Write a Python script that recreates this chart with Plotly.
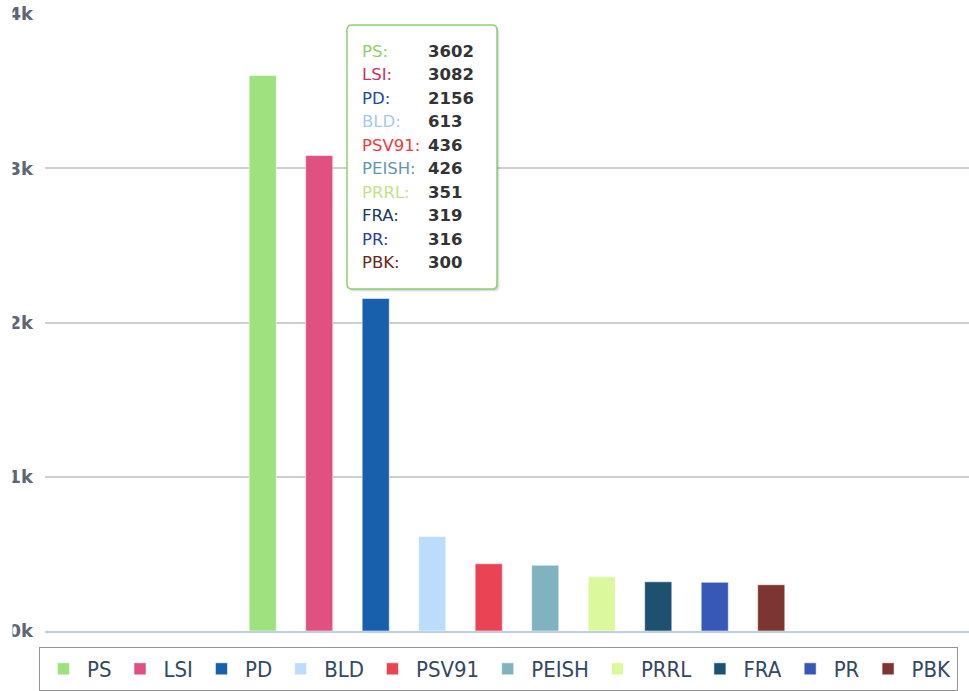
import plotly.graph_objects as go

# ---- data ----
parties = ["PS", "LSI", "PD", "BLD", "PSV91", "PEISH", "PRRL", "FRA", "PR", "PBK"]
votes = [3602, 3082, 2156, 613, 436, 426, 351, 319, 316, 300]
bar_colors = ["#9fe07f", "#e05080", "#1860ac", "#bcdcfc", "#ea4354",
              "#80b2c0", "#dbf99c", "#1e5070", "#3858b8", "#7c3530"]
label_colors = ["#8dd06b", "#c83062", "#204a9c", "#a7c9f2", "#f23a3a",
                "#5f9aa6", "#c4e288", "#173a58", "#2c3f9e", "#6b2418"]
y_tickvals = [0, 1000, 2000, 3000, 4000]
y_ticktext = ["0k", "1k", "2k", "3k", "4k"]

W, H = 969, 691
PL, PR_, PT, PB = 45, 969, 14, 631  # plot area in px


def px_x(px):
    return (px - PL) / (PR_ - PL)


def px_y(py):
    return (PB - py) / (PB - PT)


fig = go.Figure()
for name, v, col in zip(parties, votes, bar_colors):
    fig.add_trace(go.Bar(
        x=[0], y=[v], name=name,
        marker=dict(color=col, line=dict(color="rgba(255,255,255,0.55)", width=1)),
        hoverinfo="skip",
    ))

shapes = []


def rounded_rect(x0, y0, x1, y1, r):
    X = lambda p: px_x(p)
    Y = lambda p: px_y(p)
    return (f"M {X(x0 + r)} {Y(y0)} L {X(x1 - r)} {Y(y0)} Q {X(x1)} {Y(y0)} {X(x1)} {Y(y0 + r)} "
            f"L {X(x1)} {Y(y1 - r)} Q {X(x1)} {Y(y1)} {X(x1 - r)} {Y(y1)} "
            f"L {X(x0 + r)} {Y(y1)} Q {X(x0)} {Y(y1)} {X(x0)} {Y(y1 - r)} "
            f"L {X(x0)} {Y(y0 + r)} Q {X(x0)} {Y(y0)} {X(x0 + r)} {Y(y0)} Z")


# tooltip shadow + box
for off, alpha in [(3, 0.05), (2, 0.07), (1, 0.1)]:
    shapes.append(dict(type="path", xref="paper", yref="paper", layer="above",
                       path=rounded_rect(347 + off, 25 + off, 497 + off, 289 + off, 5),
                       fillcolor=f"rgba(0,0,0,{alpha})", line=dict(width=0)))
shapes.append(dict(type="path", xref="paper", yref="paper", layer="above",
                   path=rounded_rect(347, 25, 497, 289, 5),
                   fillcolor="white", line=dict(color="#8fd070", width=1.5)))
# crop of the left edge (reference tick labels are clipped)
shapes.append(dict(type="rect", xref="paper", yref="paper", layer="above",
                   x0=px_x(-5), x1=px_x(12.5), y0=px_y(640), y1=px_y(-5),
                   fillcolor="white", line=dict(width=0)))

annotations = []
for i, (name, v, col) in enumerate(zip(parties, votes, label_colors)):
    yc = 51 + i * 23.55
    annotations.append(dict(xref="paper", yref="paper", x=px_x(360), y=px_y(yc),
                            xanchor="left", yanchor="middle", showarrow=False,
                            text=f"{name}:",
                            font=dict(family="DejaVu Sans", size=16.5, color=col)))
    annotations.append(dict(xref="paper", yref="paper", x=px_x(426), y=px_y(yc),
                            xanchor="left", yanchor="middle", showarrow=False,
                            text=f"<b>{v}</b>",
                            font=dict(family="DejaVu Sans", size=16.5, color="#333333")))

fig.update_layout(
    width=W, height=H,
    margin=dict(l=PL, r=W - PR_, t=PT, b=H - PB, pad=0),
    paper_bgcolor="white", plot_bgcolor="white",
    barmode="group", bargap=0.3885, bargroupgap=0.52,
    showlegend=True,
    legend=dict(orientation="h", xref="container", yref="container",
                x=498.5 / W, xanchor="center", y=1 - 647 / H, yanchor="top",
                bordercolor="#959595", borderwidth=1, bgcolor="white",
                itemwidth=37,
                font=dict(family="Liberation Sans Narrow, DejaVu Sans Condensed, sans-serif",
                          size=22, color="#34495e")),
    xaxis=dict(range=[-0.5108, 0.4892], showticklabels=False, showgrid=False,
               zeroline=False, showline=True, linecolor="#c0d0e0", linewidth=2,
               ticks=""),
    yaxis=dict(range=[0, 4000], tickvals=y_tickvals, ticktext=y_ticktext,
               showgrid=True, gridcolor="#cfcfcf", gridwidth=1.5, zeroline=False,
               showline=False, ticks="", ticklabelstandoff=11,
               tickfont=dict(family="DejaVu Sans", size=18, color="#5f6672", weight="bold")),
    shapes=shapes,
    annotations=annotations,
    hovermode=False,
)

fig.write_html("out.html", config={"displayModeBar": False},
               post_script="document.body.style.margin='0';document.body.style.overflow='hidden';")
